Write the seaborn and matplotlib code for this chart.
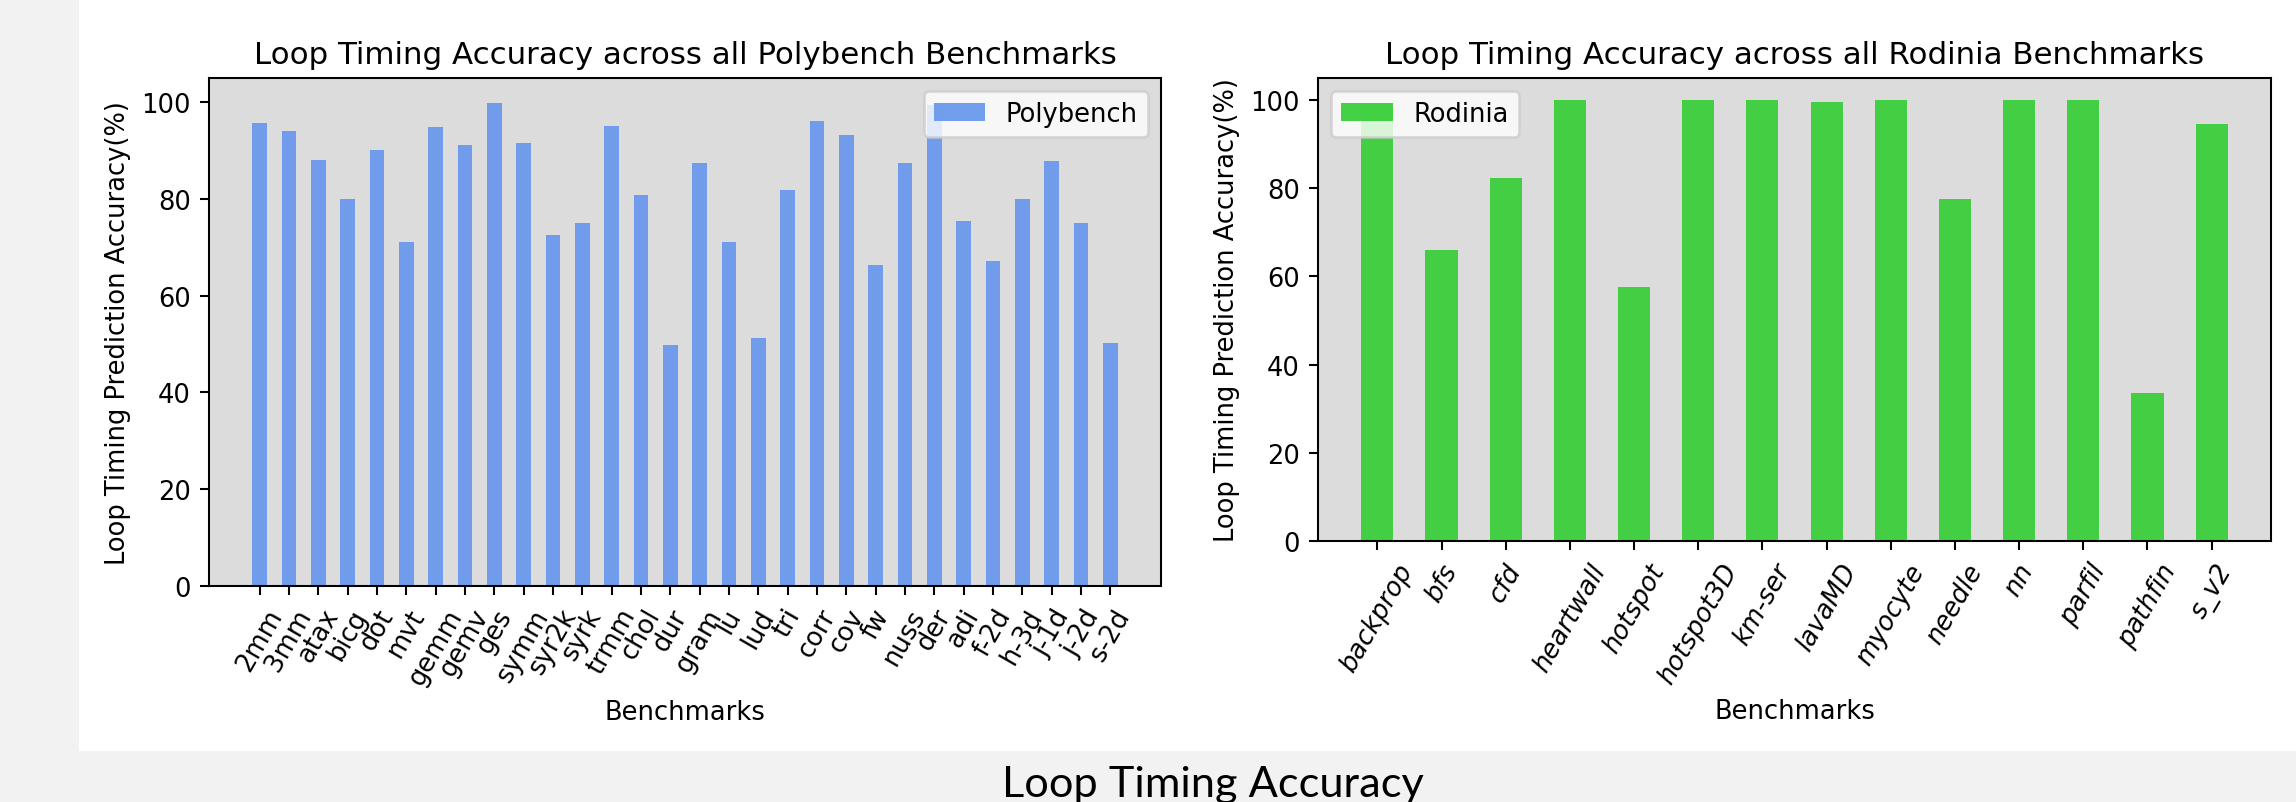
import matplotlib
matplotlib.use("Agg")
import matplotlib.pyplot as plt
from matplotlib.patches import Rectangle
import seaborn as sns
import pandas as pd

# ---- data ----
poly_names = ["2mm", "3mm", "atax", "bicg", "dot", "mvt", "gemm", "gemv", "ges", "symm",
              "syr2k", "syrk", "trmm", "chol", "dur", "gram", "lu", "lud", "tri", "corr",
              "cov", "fw", "nuss", "der", "adi", "f-2d", "h-3d", "j-1d", "j-2d", "s-2d"]
poly_values = [95.8, 94.0, 88.0, 80.0, 90.1, 71.2, 94.9, 91.2, 99.8, 91.5,
               72.6, 75.1, 95.1, 80.8, 49.8, 87.4, 71.0, 51.3, 81.8, 96.2,
               93.3, 66.4, 87.4, 99.5, 75.5, 67.2, 80.0, 87.8, 75.1, 50.2]

rod_names = ["backprop", "bfs", "cfd", "heartwall", "hotspot", "hotspot3D", "km-ser",
             "lavaMD", "myocyte", "needle", "nn", "parfil", "pathfin", "s_v2"]
rod_values = [99.0, 66.1, 82.3, 100.0, 57.7, 100.0, 100.0,
              99.5, 100.0, 77.6, 100.0, 100.0, 33.6, 94.5]

poly_df = pd.DataFrame({"bench": poly_names, "acc": poly_values})
rod_df = pd.DataFrame({"bench": rod_names, "acc": rod_values})

W, H, DPI = 2296, 803, 185
fig = plt.figure(figsize=(W / DPI, H / DPI), dpi=DPI)
fig.patch.set_facecolor("#f2f2f2")
fig.patches.append(Rectangle((79 / W, (H - 752) / H), 1 - 79 / W, 752 / H,
                             transform=fig.transFigure, facecolor="white",
                             edgecolor="none", zorder=-10))

ax1 = fig.add_axes([209 / W, (H - 587) / H, (1161 - 209) / W, (587 - 79) / H])
ax2 = fig.add_axes([1318 / W, (H - 542) / H, (2271 - 1318) / W, (542 - 79) / H])


def draw(ax, df, color, label, title, loc, italic):
    n = len(df)
    ax.set_facecolor("#dcdcdc")
    sns.barplot(data=df, x="bench", y="acc", color=color, saturation=1,
                width=0.5, alpha=0.9, label=label, ax=ax)
    ax.set_xlim(-0.25 - 0.05 * (n - 0.5), (n - 1) + 0.25 + 0.05 * (n - 0.5))
    ax.set_ylim(0, 105)
    ax.set_title(title)
    ax.set_xlabel("Benchmarks")
    ax.set_ylabel("Loop Timing Prediction Accuracy(%)")
    ax.tick_params(axis="x", rotation=60)
    if italic:
        for lab in ax.get_xticklabels():
            lab.set_style("italic")
    ax.grid(False)
    for s in ax.spines.values():
        s.set_visible(True)
        s.set_color("black")
    ax.legend(loc=loc)


draw(ax1, poly_df, "cornflowerblue", "Polybench",
     "Loop Timing Accuracy across all Polybench Benchmarks", "upper right", False)
draw(ax2, rod_df, "limegreen", "Rodinia",
     "Loop Timing Accuracy across all Rodinia Benchmarks", "upper left", True)

fig.text(1213 / W, (H - 797) / H, "Loop Timing Accuracy", ha="center", va="baseline",
         fontsize=16.85, family=["Lato", "DejaVu Sans"], color="black")

fig.savefig("out.png", dpi=DPI, facecolor=fig.get_facecolor())
